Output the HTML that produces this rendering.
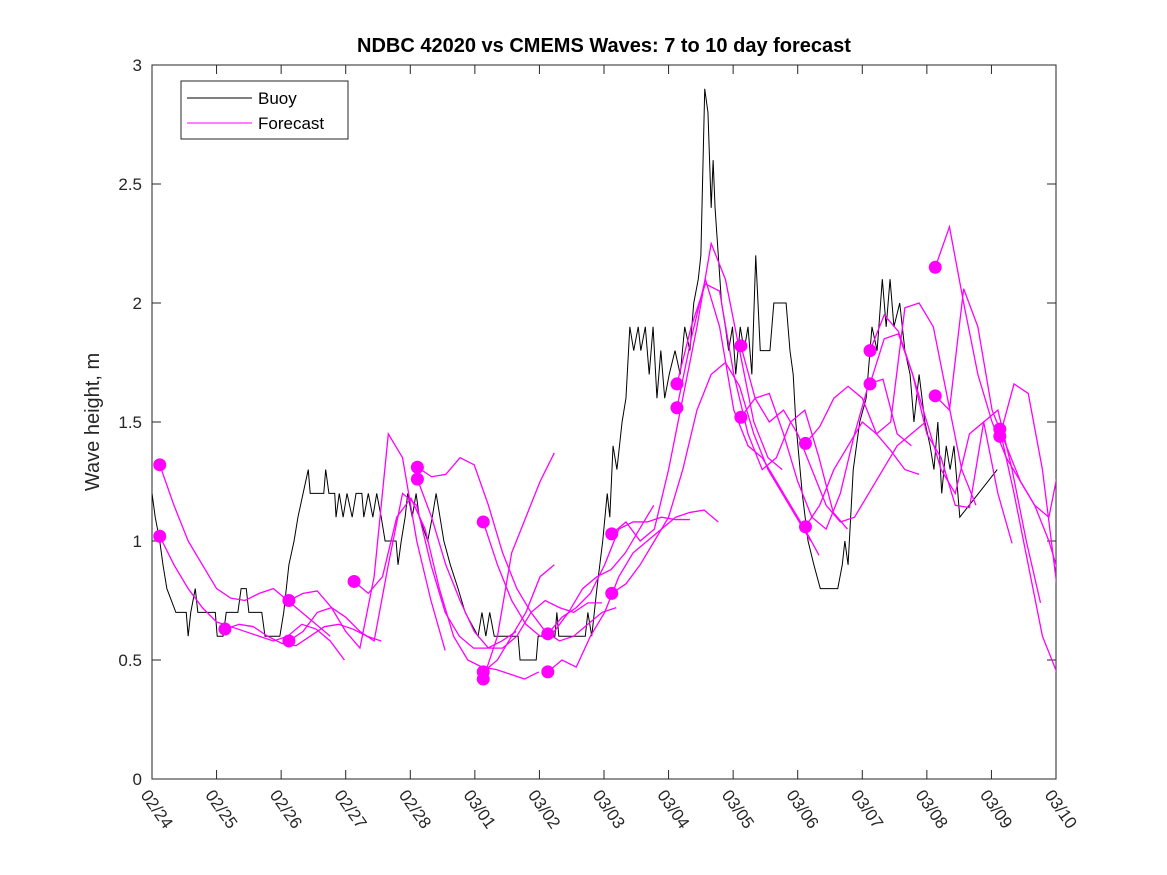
<!DOCTYPE html>
<html><head><meta charset="utf-8">
<style>
body{margin:0;background:#fff;}
svg{display:block;font-family:"Liberation Sans","DejaVu Sans",sans-serif;}
</style></head>
<body>
<svg id="chart" width="1167" height="875">
<rect x="0" y="0" width="1167" height="875" fill="#fff"/>
<text x="604" y="52" text-anchor="middle" font-size="20" font-weight="bold" fill="#000">NDBC 42020 vs CMEMS Waves: 7 to 10 day forecast</text>
<text transform="translate(99,422) rotate(-90)" text-anchor="middle" font-size="20" fill="#262626">Wave height, m</text>
<g id="axes"></g>
<g id="series"></g>
<g id="legend">
<rect x="181" y="81" width="167" height="58" fill="#fff" stroke="#262626" stroke-width="1"/>
<line x1="187" y1="98" x2="252" y2="98" stroke="#000"/>
<text x="258" y="104" font-size="17" fill="#000">Buoy</text>
<line x1="187" y1="123" x2="252" y2="123" stroke="#f0f"/>
<text x="258" y="129" font-size="17" fill="#000">Forecast</text>
</g>
</svg>
<script>
const xTickLabels=["02/24","02/25","02/26","02/27","02/28","03/01","03/02","03/03","03/04","03/05","03/06","03/07","03/08","03/09","03/10"];
const yTicks=[0,0.5,1,1.5,2,2.5,3];
const yTickLabels=["0","0.5","1","1.5","2","2.5","3"];
const buoyDays=[0,0.05,0.12,0.17,0.23,0.37,0.53,0.56,0.60,0.67,0.71,0.98,1.01,1.10,1.15,1.33,1.38,1.46,1.50,1.70,1.75,1.98,2.04,2.12,2.20,2.26,2.34,2.42,2.45,2.66,2.69,2.74,2.83,2.85,2.90,2.96,3.02,3.10,3.16,3.25,3.28,3.35,3.42,3.48,3.55,3.61,3.78,3.81,3.86,3.92,3.96,4.03,4.09,4.14,4.27,4.34,4.40,4.46,4.52,4.62,4.74,4.85,5.05,5.11,5.17,5.23,5.30,5.67,5.70,5.95,5.98,6.24,6.27,6.30,6.71,6.75,6.81,6.89,6.98,7.05,7.09,7.14,7.20,7.28,7.34,7.40,7.46,7.53,7.57,7.64,7.70,7.76,7.82,7.88,7.94,8.01,8.10,8.18,8.25,8.33,8.39,8.46,8.50,8.56,8.61,8.66,8.69,8.72,8.77,8.82,8.88,8.93,8.99,9.04,9.11,9.17,9.23,9.29,9.35,9.42,9.57,9.63,9.82,9.88,9.93,9.97,10.07,10.16,10.25,10.35,10.62,10.69,10.73,10.78,10.86,10.96,11.06,11.15,11.23,11.31,11.37,11.43,11.49,11.58,11.66,11.74,11.80,11.88,11.97,12.05,12.11,12.17,12.23,12.30,12.36,12.42,12.48,12.51,13.09];
const buoyVals=[1.2,1.1,1.0,0.9,0.8,0.7,0.7,0.6,0.7,0.8,0.7,0.7,0.6,0.6,0.7,0.7,0.8,0.8,0.7,0.7,0.6,0.6,0.7,0.9,1.0,1.1,1.2,1.3,1.2,1.2,1.3,1.2,1.2,1.1,1.2,1.1,1.2,1.1,1.2,1.2,1.1,1.2,1.1,1.2,1.1,1.0,1.0,0.9,1.0,1.1,1.2,1.1,1.2,1.1,1.0,1.1,1.2,1.1,1.0,0.9,0.8,0.7,0.6,0.7,0.6,0.7,0.6,0.6,0.5,0.5,0.6,0.6,0.7,0.6,0.6,0.7,0.6,0.8,1.0,1.2,1.1,1.4,1.3,1.5,1.6,1.9,1.8,1.9,1.8,1.9,1.7,1.9,1.6,1.8,1.6,1.7,1.8,1.7,1.9,1.8,2.0,2.1,2.2,2.9,2.8,2.4,2.6,2.4,2.2,2.0,1.9,1.8,1.9,1.7,1.9,1.8,1.9,1.7,2.2,1.8,1.8,2.0,2.0,1.8,1.7,1.5,1.2,1.0,0.9,0.8,0.8,0.9,1.0,0.9,1.3,1.5,1.6,1.9,1.8,2.1,1.9,2.1,1.9,2.0,1.8,1.7,1.5,1.7,1.5,1.4,1.3,1.5,1.2,1.4,1.3,1.4,1.2,1.1,1.3];
const fcStarts=[0.12,0.12,1.13,2.12,2.12,3.13,4.11,4.11,5.13,5.13,5.13,6.13,6.13,7.12,7.12,8.13,8.13,9.12,9.12,10.12,10.12,11.12,11.12,12.13,12.13,13.13,13.13];
const fcVals=[
[1.32,1.15,1.0,0.9,0.8,0.76,0.75,0.78,0.8,0.75,0.7,0.65,0.6],
[1.02,0.9,0.8,0.72,0.66,0.64,0.62,0.6,0.58,0.6,0.65,0.63,0.58,0.5],
[0.63,0.65,0.64,0.6,0.57,0.56,0.6,0.64,0.65,0.63,0.6,0.58],
[0.75,0.78,0.79,0.72,0.62,0.55,0.85,1.45,1.35,1.0,0.75,0.54],
[0.58,0.62,0.7,0.72,0.68,0.62,0.58,0.9,1.2,1.15,0.9,0.7,0.6,0.55,0.55,0.58,0.62],
[0.83,0.78,0.85,1.1,1.18,1.05,0.8,0.6,0.5,0.47,0.46,0.44,0.42,0.45],
[1.31,1.27,1.28,1.35,1.32,1.15,0.95,0.8,0.7,0.62,0.58,0.6,0.65,0.7,0.72],
[1.26,1.1,0.9,0.75,0.62,0.55,0.55,0.6,0.7,0.75,0.72,0.7,0.74,0.74],
[1.08,0.9,0.75,0.65,0.6,0.62,0.7,0.8,0.85,0.88,0.95,1.05,1.15],
[0.42,0.6,0.95,1.1,1.25,1.37],
[0.45,0.5,0.6,0.7,0.85,0.9],
[0.61,0.68,0.72,0.78,0.9,1.05,1.08,1.08,1.1,1.09,1.09],
[0.45,0.5,0.47,0.6,0.7,0.85,0.95,1.0,1.05,1.1,1.12,1.13,1.08],
[1.03,1.08,1.0,1.05,1.3,1.6,1.9,2.25,2.1,1.8,1.5,1.35,1.3],
[0.78,0.82,0.9,1.0,1.1,1.3,1.55,1.7,1.75,1.65,1.45,1.3,1.2,1.1,1.0],
[1.66,1.9,2.08,2.05,1.7,1.45,1.3,1.35,1.5,1.55,1.35,1.12,1.05],
[1.56,1.85,2.1,1.9,1.55,1.4,1.35,1.25,1.15,1.05,0.94],
[1.82,1.6,1.5,1.55,1.45,1.3,1.15,1.08,1.1,1.2,1.3,1.4,1.45,1.5],
[1.52,1.6,1.62,1.45,1.25,1.1,1.05,1.2,1.45,1.66,1.68,1.45,1.4],
[1.41,1.48,1.6,1.65,1.6,1.45,1.38,1.3,1.28],
[1.06,1.15,1.3,1.4,1.5,1.45,1.5,1.98,2.0,1.9,1.6,1.3,1.15],
[1.8,1.95,1.88,1.7,1.5,1.3,1.2,1.45,1.5,1.2,0.99],
[1.66,1.85,1.87,1.7,1.45,1.35,1.15,1.14,1.5,1.55,1.3,1.0,0.74],
[2.15,2.32,2.0,1.7,1.5,1.35,1.25,1.15,1.0,0.8,0.66,0.65,0.75,0.82,0.82,0.7,0.57],
[1.61,1.55,2.06,1.9,1.55,1.4,1.25,1.15,1.1,1.4,1.9,2.12,2.14,1.85,1.3,0.8],
[1.47,1.2,0.9,0.6,0.45],
[1.44,1.66,1.62,1.3,0.82]
];
const fcStep=0.22;
const X0=152,X1=1056,Y0=779,Y1=65,DAYS=14,YMAX=3;
function xs(d){return X0+(X1-X0)*d/DAYS;}
function ys(v){return Y0-(Y0-Y1)*v/YMAX;}
const NS="http://www.w3.org/2000/svg";
function mk(tag,attrs,parent){const e=document.createElementNS(NS,tag);for(const k in attrs)e.setAttribute(k,attrs[k]);parent.appendChild(e);return e;}
const axes=document.getElementById('axes'),ser=document.getElementById('series');
const defs=mk('defs',{},document.getElementById('chart'));
const cp=mk('clipPath',{id:'clip'},defs);
mk('rect',{x:X0,y:Y1,width:X1-X0,height:Y0-Y1},cp);
ser.setAttribute('clip-path','url(#clip)');
const box=mk('rect',{x:X0,y:Y1,width:X1-X0,height:Y0-Y1,fill:'none',stroke:'#262626','stroke-width':1},axes);


yTicks.forEach((v,i)=>{
  const y=ys(v);
  mk('line',{x1:X0,y1:y,x2:X0+9,y2:y,stroke:'#262626'},axes);
  mk('line',{x1:X1,y1:y,x2:X1-9,y2:y,stroke:'#262626'},axes);
  const t=mk('text',{x:X0-10,y:y+6,'text-anchor':'end','font-size':17,fill:'#262626'},axes);
  t.textContent=yTickLabels[i];
  
  
});
xTickLabels.forEach((lab,i)=>{
  const x=xs(i);
  mk('line',{x1:x,y1:Y0,x2:x,y2:Y0-9,stroke:'#262626'},axes);
  mk('line',{x1:x,y1:Y1,x2:x,y2:Y1+9,stroke:'#262626'},axes);
  const t=mk('text',{x:0,y:0,'font-size':17,fill:'#262626',transform:`translate(${x-12},${Y0+16}) rotate(55)`},axes);
  t.textContent=lab;
  
  
});
const bp=mk('polyline',{points:buoyDays.map((d,i)=>xs(d)+','+ys(buoyVals[i])).join(' '),fill:'none',stroke:'#000','stroke-width':1},ser);


fcVals.forEach((vals,k)=>{
  const s=fcStarts[k];
  const pl=mk('polyline',{points:vals.map((v,i)=>xs(s+i*fcStep)+','+ys(v)).join(' '),fill:'none',stroke:'#f0f','stroke-width':1.3},ser);
  
  
  const c=mk('circle',{cx:xs(s),cy:ys(vals[0]),r:6.5,fill:'#f0f'},ser);
  
  
});
</script>
</body></html>
